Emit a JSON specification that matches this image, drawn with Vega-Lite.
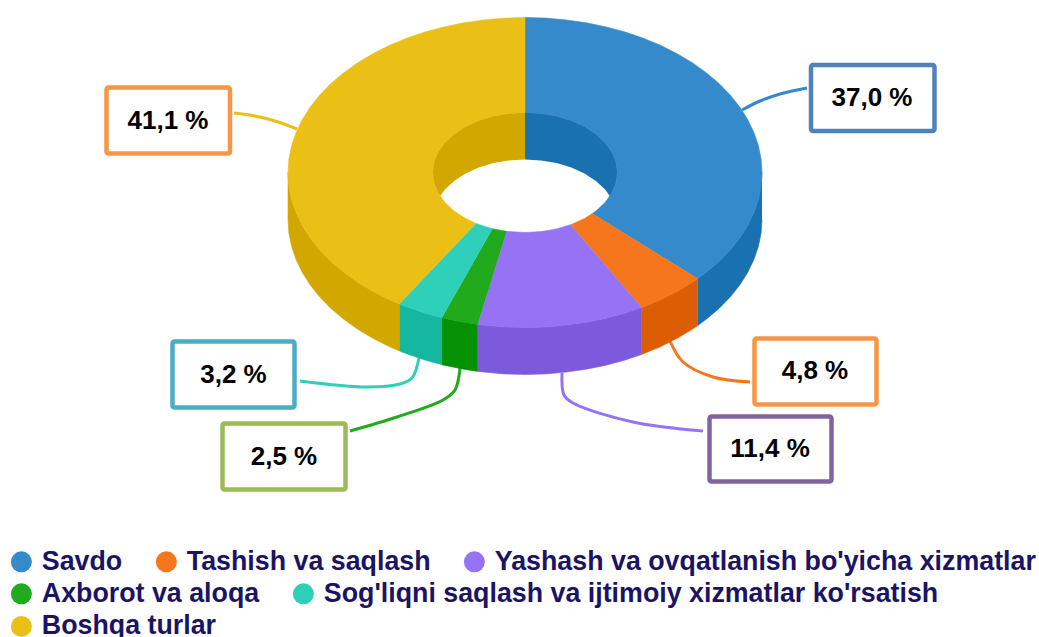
{
"$schema":"https://vega.github.io/schema/vega-lite/v6.json",
"width":1039,"height":637,"padding":0,"autosize":{"type":"none"},"background":"white",
"view":{"stroke":null},
"config":{"view":{"stroke":null},"legend":{"orient":"none","direction":"horizontal","title":null,"padding":0,"symbolType":"circle","symbolSize":441,"symbolStrokeWidth":0,"symbolOpacity":1,"labelFont":"Liberation Sans","labelFontWeight":"bold","labelFontSize":26.8,"labelColor":"#1b1464","labelOffset":7,"labelLimit":800,"columnPadding":30,"symbolOffset":0}},
"datasets":{
"labels":[
{"slice":"Savdo","label":"37,0 %","value":37.0,"x":811,"x2":934.5,"y":65,"y2":131,"tx":872,"ty":98},
{"slice":"Tashish va saqlash","label":"4,8 %","value":4.8,"x":754.5,"x2":876.5,"y":338.5,"y2":404.5,"tx":815,"ty":371},
{"slice":"Yashash va ovqatlanish bo'yicha xizmatlar","label":"11,4 %","value":11.4,"x":709.5,"x2":831.5,"y":416.5,"y2":481.5,"tx":770,"ty":449},
{"slice":"Axborot va aloqa","label":"2,5 %","value":2.5,"x":222.5,"x2":345.5,"y":423.5,"y2":489.5,"tx":284,"ty":456.5},
{"slice":"Sog'liqni saqlash va ijtimoiy xizmatlar ko'rsatish","label":"3,2 %","value":3.2,"x":172.5,"x2":294.5,"y":341.5,"y2":407.5,"tx":233.5,"ty":374.5},
{"slice":"Boshqa turlar","label":"41,1 %","value":41.1,"x":106.5,"x2":230,"y":87.5,"y2":153.5,"tx":168,"ty":121}
],
"connectors":[
{"slice":"A","x":742,"y":110},{"slice":"A","x":760,"y":101},{"slice":"A","x":780,"y":94},{"slice":"A","x":807,"y":88},
{"slice":"B","x":670,"y":341},{"slice":"B","x":683,"y":362},{"slice":"B","x":713,"y":377},{"slice":"B","x":750,"y":382},
{"slice":"C","x":562,"y":373},{"slice":"C","x":564,"y":395},{"slice":"C","x":573,"y":403},{"slice":"C","x":633,"y":422},{"slice":"C","x":703,"y":431},
{"slice":"D","x":460,"y":368},{"slice":"D","x":455,"y":390},{"slice":"D","x":443,"y":400},{"slice":"D","x":397,"y":417},{"slice":"D","x":350,"y":431},
{"slice":"E","x":419,"y":358},{"slice":"E","x":412,"y":378},{"slice":"E","x":400,"y":384},{"slice":"E","x":367,"y":387},{"slice":"E","x":300,"y":381},
{"slice":"F","x":297,"y":129},{"slice":"F","x":275,"y":121},{"slice":"F","x":255,"y":116},{"slice":"F","x":234,"y":113}
],
"side":[
{"slice":"A","x":762,"y":172.5},{"slice":"A","x":761.1,"y":186},{"slice":"A","x":758.4,"y":199.4},{"slice":"A","x":753.9,"y":212.6},{"slice":"A","x":747.7,"y":225.5},{"slice":"A","x":739.8,"y":238},{"slice":"A","x":730.2,"y":250},{"slice":"A","x":719.1,"y":261.4},{"slice":"A","x":706.5,"y":272.1},{"slice":"A","x":697.8,"y":278.6},{"slice":"A","x":697.8,"y":325.6},{"slice":"A","x":706.5,"y":319.1},{"slice":"A","x":719.1,"y":308.4},{"slice":"A","x":730.2,"y":297},{"slice":"A","x":739.8,"y":285},{"slice":"A","x":747.7,"y":272.5},{"slice":"A","x":753.9,"y":259.6},{"slice":"A","x":758.4,"y":246.4},{"slice":"A","x":761.1,"y":233},{"slice":"A","x":762,"y":219.5},
{"slice":"B","x":697.8,"y":278.6},{"slice":"B","x":692.6,"y":282.1},{"slice":"B","x":677.3,"y":291.2},{"slice":"B","x":660.9,"y":299.5},{"slice":"B","x":643.5,"y":306.7},{"slice":"B","x":641.7,"y":307.4},{"slice":"B","x":641.7,"y":354.4},{"slice":"B","x":643.5,"y":353.7},{"slice":"B","x":660.9,"y":346.5},{"slice":"B","x":677.3,"y":338.2},{"slice":"B","x":692.6,"y":329.1},{"slice":"B","x":697.8,"y":325.6},
{"slice":"C","x":641.7,"y":307.4},{"slice":"C","x":625.2,"y":313},{"slice":"C","x":606.1,"y":318.2},{"slice":"C","x":586.3,"y":322.2},{"slice":"C","x":566.1,"y":325.1},{"slice":"C","x":545.7,"y":326.9},{"slice":"C","x":525,"y":327.5},{"slice":"C","x":504.3,"y":326.9},{"slice":"C","x":483.9,"y":325.1},{"slice":"C","x":477.7,"y":324.4},{"slice":"C","x":477.7,"y":371.4},{"slice":"C","x":483.9,"y":372.1},{"slice":"C","x":504.3,"y":373.9},{"slice":"C","x":525,"y":374.5},{"slice":"C","x":545.7,"y":373.9},{"slice":"C","x":566.1,"y":372.1},{"slice":"C","x":586.3,"y":369.2},{"slice":"C","x":606.1,"y":365.2},{"slice":"C","x":625.2,"y":360},{"slice":"C","x":641.7,"y":354.4},
{"slice":"D","x":477.7,"y":324.4},{"slice":"D","x":463.7,"y":322.2},{"slice":"D","x":443.9,"y":318.2},{"slice":"D","x":442,"y":317.7},{"slice":"D","x":442,"y":364.7},{"slice":"D","x":443.9,"y":365.2},{"slice":"D","x":463.7,"y":369.2},{"slice":"D","x":477.7,"y":371.4},
{"slice":"E","x":442,"y":317.7},{"slice":"E","x":424.8,"y":313},{"slice":"E","x":406.5,"y":306.7},{"slice":"E","x":399.4,"y":303.9},{"slice":"E","x":399.4,"y":350.9},{"slice":"E","x":406.5,"y":353.7},{"slice":"E","x":424.8,"y":360},{"slice":"E","x":442,"y":364.7},
{"slice":"F","x":399.4,"y":303.9},{"slice":"F","x":389.1,"y":299.5},{"slice":"F","x":372.7,"y":291.2},{"slice":"F","x":357.4,"y":282.1},{"slice":"F","x":343.5,"y":272.1},{"slice":"F","x":330.9,"y":261.4},{"slice":"F","x":319.8,"y":250},{"slice":"F","x":310.2,"y":238},{"slice":"F","x":302.3,"y":225.5},{"slice":"F","x":296.1,"y":212.6},{"slice":"F","x":291.6,"y":199.4},{"slice":"F","x":288.9,"y":186},{"slice":"F","x":288,"y":172.5},{"slice":"F","x":288,"y":219.5},{"slice":"F","x":288.9,"y":233},{"slice":"F","x":291.6,"y":246.4},{"slice":"F","x":296.1,"y":259.6},{"slice":"F","x":302.3,"y":272.5},{"slice":"F","x":310.2,"y":285},{"slice":"F","x":319.8,"y":297},{"slice":"F","x":330.9,"y":308.4},{"slice":"F","x":343.5,"y":319.1},{"slice":"F","x":357.4,"y":329.1},{"slice":"F","x":372.7,"y":338.2},{"slice":"F","x":389.1,"y":346.5},{"slice":"F","x":399.4,"y":350.9}
],
"wall":[
{"slice":"A","x":525,"y":112.5},{"slice":"A","x":541.1,"y":113.4},{"slice":"A","x":556.6,"y":116.1},{"slice":"A","x":571.3,"y":120.5},{"slice":"A","x":584.5,"y":126.5},{"slice":"A","x":595.9,"y":133.9},{"slice":"A","x":605.1,"y":142.5},{"slice":"A","x":611.9,"y":152},{"slice":"A","x":616.1,"y":162.1},{"slice":"A","x":617.5,"y":172.5},{"slice":"A","x":616.1,"y":182.9},{"slice":"A","x":611.9,"y":193},{"slice":"A","x":605.1,"y":202.5},{"slice":"A","x":595.9,"y":211.1},{"slice":"A","x":584.5,"y":218.5},{"slice":"A","x":571.3,"y":224.5},{"slice":"A","x":556.6,"y":228.9},{"slice":"A","x":541.1,"y":231.6},{"slice":"A","x":525,"y":232.5},
{"slice":"F","x":525,"y":232.5},{"slice":"F","x":508.9,"y":231.6},{"slice":"F","x":493.4,"y":228.9},{"slice":"F","x":478.7,"y":224.5},{"slice":"F","x":465.5,"y":218.5},{"slice":"F","x":454.1,"y":211.1},{"slice":"F","x":444.9,"y":202.5},{"slice":"F","x":438.1,"y":193},{"slice":"F","x":433.9,"y":182.9},{"slice":"F","x":432.5,"y":172.5},{"slice":"F","x":433.9,"y":162.1},{"slice":"F","x":438.1,"y":152},{"slice":"F","x":444.9,"y":142.5},{"slice":"F","x":454.1,"y":133.9},{"slice":"F","x":465.5,"y":126.5},{"slice":"F","x":478.7,"y":120.5},{"slice":"F","x":493.4,"y":116.1},{"slice":"F","x":508.9,"y":113.4},{"slice":"F","x":525,"y":112.5}
],
"hole":[
{"x":525,"y":159.5},{"x":541.1,"y":160.4},{"x":556.6,"y":163.1},{"x":571.3,"y":167.5},{"x":584.5,"y":173.5},{"x":595.9,"y":180.9},{"x":605.1,"y":189.5},{"x":611.9,"y":199},{"x":616.1,"y":209.1},{"x":617.5,"y":219.5},{"x":616.1,"y":229.9},{"x":611.9,"y":240},{"x":605.1,"y":249.5},{"x":595.9,"y":258.1},{"x":584.5,"y":265.5},{"x":571.3,"y":271.5},{"x":556.6,"y":275.9},{"x":541.1,"y":278.6},{"x":525,"y":279.5},{"x":508.9,"y":278.6},{"x":493.4,"y":275.9},{"x":478.7,"y":271.5},{"x":465.5,"y":265.5},{"x":454.1,"y":258.1},{"x":444.9,"y":249.5},{"x":438.1,"y":240},{"x":433.9,"y":229.9},{"x":432.5,"y":219.5},{"x":433.9,"y":209.1},{"x":438.1,"y":199},{"x":444.9,"y":189.5},{"x":454.1,"y":180.9},{"x":465.5,"y":173.5},{"x":478.7,"y":167.5},{"x":493.4,"y":163.1},{"x":508.9,"y":160.4}
],
"top":[
{"slice":"A","x":525,"y":17.5},{"slice":"A","x":545.7,"y":18.1},{"slice":"A","x":566.1,"y":19.9},{"slice":"A","x":586.3,"y":22.8},{"slice":"A","x":606.1,"y":26.9},{"slice":"A","x":625.2,"y":32},{"slice":"A","x":643.5,"y":38.3},{"slice":"A","x":660.9,"y":45.5},{"slice":"A","x":677.3,"y":53.8},{"slice":"A","x":692.6,"y":62.9},{"slice":"A","x":706.5,"y":72.9},{"slice":"A","x":719.1,"y":83.6},{"slice":"A","x":730.2,"y":95},{"slice":"A","x":739.8,"y":107},{"slice":"A","x":747.7,"y":119.5},{"slice":"A","x":753.9,"y":132.4},{"slice":"A","x":758.4,"y":145.6},{"slice":"A","x":761.1,"y":159},{"slice":"A","x":762,"y":172.5},{"slice":"A","x":761.1,"y":186},{"slice":"A","x":758.4,"y":199.4},{"slice":"A","x":753.9,"y":212.6},{"slice":"A","x":747.7,"y":225.5},{"slice":"A","x":739.8,"y":238},{"slice":"A","x":730.2,"y":250},{"slice":"A","x":719.1,"y":261.4},{"slice":"A","x":706.5,"y":272.1},{"slice":"A","x":697.8,"y":278.6},{"slice":"A","x":592.4,"y":213.6},{"slice":"A","x":595.9,"y":211.1},{"slice":"A","x":605.1,"y":202.5},{"slice":"A","x":611.9,"y":193},{"slice":"A","x":616.1,"y":182.9},{"slice":"A","x":617.5,"y":172.5},{"slice":"A","x":616.1,"y":162.1},{"slice":"A","x":611.9,"y":152},{"slice":"A","x":605.1,"y":142.5},{"slice":"A","x":595.9,"y":133.9},{"slice":"A","x":584.5,"y":126.5},{"slice":"A","x":571.3,"y":120.5},{"slice":"A","x":556.6,"y":116.1},{"slice":"A","x":541.1,"y":113.4},{"slice":"A","x":525,"y":112.5},
{"slice":"B","x":697.8,"y":278.6},{"slice":"B","x":692.6,"y":282.1},{"slice":"B","x":677.3,"y":291.2},{"slice":"B","x":660.9,"y":299.5},{"slice":"B","x":643.5,"y":306.7},{"slice":"B","x":641.7,"y":307.4},{"slice":"B","x":570.5,"y":224.7},{"slice":"B","x":571.3,"y":224.5},{"slice":"B","x":584.5,"y":218.5},{"slice":"B","x":592.4,"y":213.6},
{"slice":"C","x":641.7,"y":307.4},{"slice":"C","x":625.2,"y":313},{"slice":"C","x":606.1,"y":318.2},{"slice":"C","x":586.3,"y":322.2},{"slice":"C","x":566.1,"y":325.1},{"slice":"C","x":545.7,"y":326.9},{"slice":"C","x":525,"y":327.5},{"slice":"C","x":504.3,"y":326.9},{"slice":"C","x":483.9,"y":325.1},{"slice":"C","x":477.7,"y":324.4},{"slice":"C","x":506.6,"y":231.3},{"slice":"C","x":508.9,"y":231.6},{"slice":"C","x":525,"y":232.5},{"slice":"C","x":541.1,"y":231.6},{"slice":"C","x":556.6,"y":228.9},{"slice":"C","x":570.5,"y":224.7},
{"slice":"D","x":477.7,"y":324.4},{"slice":"D","x":463.7,"y":322.2},{"slice":"D","x":443.9,"y":318.2},{"slice":"D","x":442,"y":317.7},{"slice":"D","x":492.6,"y":228.7},{"slice":"D","x":493.4,"y":228.9},{"slice":"D","x":506.6,"y":231.3},
{"slice":"E","x":442,"y":317.7},{"slice":"E","x":424.8,"y":313},{"slice":"E","x":406.5,"y":306.7},{"slice":"E","x":399.4,"y":303.9},{"slice":"E","x":476,"y":223.4},{"slice":"E","x":478.8,"y":224.5},{"slice":"E","x":492.6,"y":228.7},
{"slice":"F","x":399.4,"y":303.9},{"slice":"F","x":389.1,"y":299.5},{"slice":"F","x":372.7,"y":291.2},{"slice":"F","x":357.4,"y":282.1},{"slice":"F","x":343.5,"y":272.1},{"slice":"F","x":330.9,"y":261.4},{"slice":"F","x":319.8,"y":250},{"slice":"F","x":310.2,"y":238},{"slice":"F","x":302.3,"y":225.5},{"slice":"F","x":296.1,"y":212.6},{"slice":"F","x":291.6,"y":199.4},{"slice":"F","x":288.9,"y":186},{"slice":"F","x":288,"y":172.5},{"slice":"F","x":288.9,"y":159},{"slice":"F","x":291.6,"y":145.6},{"slice":"F","x":296.1,"y":132.4},{"slice":"F","x":302.3,"y":119.5},{"slice":"F","x":310.2,"y":107},{"slice":"F","x":319.8,"y":95},{"slice":"F","x":330.9,"y":83.6},{"slice":"F","x":343.5,"y":72.9},{"slice":"F","x":357.4,"y":62.9},{"slice":"F","x":372.7,"y":53.8},{"slice":"F","x":389.1,"y":45.5},{"slice":"F","x":406.5,"y":38.3},{"slice":"F","x":424.8,"y":32},{"slice":"F","x":443.9,"y":26.9},{"slice":"F","x":463.7,"y":22.8},{"slice":"F","x":483.9,"y":19.9},{"slice":"F","x":504.3,"y":18.1},{"slice":"F","x":525,"y":17.5},{"slice":"F","x":525,"y":112.5},{"slice":"F","x":508.9,"y":113.4},{"slice":"F","x":493.4,"y":116.1},{"slice":"F","x":478.7,"y":120.5},{"slice":"F","x":465.5,"y":126.5},{"slice":"F","x":454.1,"y":133.9},{"slice":"F","x":444.9,"y":142.5},{"slice":"F","x":438.1,"y":152},{"slice":"F","x":433.9,"y":162.1},{"slice":"F","x":432.5,"y":172.5},{"slice":"F","x":433.9,"y":182.9},{"slice":"F","x":438.1,"y":193},{"slice":"F","x":444.9,"y":202.5},{"slice":"F","x":454.1,"y":211.1},{"slice":"F","x":465.5,"y":218.5},{"slice":"F","x":476,"y":223.4}
]
},
"encoding":{
"x":{"field":"x","type":"quantitative","scale":{"domain":[0,1039],"nice":false,"zero":false},"axis":null},
"y":{"field":"y","type":"quantitative","scale":{"domain":[0,637],"reverse":true,"nice":false,"zero":false},"axis":null}
},
"layer":[
{"data":{"name":"labels"},"transform":[{"filter":{"field":"slice","oneOf":["Savdo","Tashish va saqlash","Yashash va ovqatlanish bo'yicha xizmatlar"]}}],
"mark":{"type":"point","filled":true,"size":1,"opacity":1},
"encoding":{"x":{"field":"tx","type":"quantitative"},"y":{"field":"ty","type":"quantitative"},
"color":{"field":"slice","type":"nominal","scale":{"domain":["Savdo","Tashish va saqlash","Yashash va ovqatlanish bo'yicha xizmatlar"],"range":["#348aca","#f6761e","#9672f5"]},"legend":{"legendX":8,"legendY":548,"columns":3}}}},
{"data":{"name":"labels"},"transform":[{"filter":{"field":"slice","oneOf":["Axborot va aloqa","Sog'liqni saqlash va ijtimoiy xizmatlar ko'rsatish"]}}],
"mark":{"type":"point","filled":true,"size":1,"opacity":1},
"encoding":{"x":{"field":"tx","type":"quantitative"},"y":{"field":"ty","type":"quantitative"},
"color":{"field":"slice","type":"nominal","scale":{"domain":["Axborot va aloqa","Sog'liqni saqlash va ijtimoiy xizmatlar ko'rsatish"],"range":["#20aa1c","#2fd0ba"]},"legend":{"legendX":8,"legendY":580,"columns":2}}}},
{"data":{"name":"labels"},"transform":[{"filter":{"field":"slice","equal":"Boshqa turlar"}}],
"mark":{"type":"point","filled":true,"size":1,"opacity":1},
"encoding":{"x":{"field":"tx","type":"quantitative"},"y":{"field":"ty","type":"quantitative"},
"color":{"field":"slice","type":"nominal","scale":{"domain":["Boshqa turlar"],"range":["#ebc016"]},"legend":{"legendX":8,"legendY":613}}}},
{"data":{"name":"connectors"},"transform":[{"window":[{"op":"row_number","as":"i"}]}],"mark":{"type":"line","interpolate":"catmull-rom","strokeWidth":3},
"encoding":{"order":{"field":"i","type":"quantitative"},"color":{"field":"slice","type":"nominal","scale":{"domain":["A","B","C","D","E","F"],"range":["#348aca","#f6761e","#9672f5","#20aa1c","#2fd0ba","#ebc016"]},"legend":null}}},
{"data":{"name":"side"},"transform":[{"window":[{"op":"row_number","as":"i"}]}],"mark":{"type":"line","strokeWidth":0.6},
"encoding":{"order":{"field":"i","type":"quantitative"},
"stroke":{"field":"slice","type":"nominal","scale":{"domain":["A","B","C","D","E","F"],"range":["#1a71b0","#dc5d04","#7d59dc","#049103","#16b7a1","#d2a700"]},"legend":null},
"fill":{"field":"slice","type":"nominal","scale":{"domain":["A","B","C","D","E","F"],"range":["#1a71b0","#dc5d04","#7d59dc","#049103","#16b7a1","#d2a700"]},"legend":null}}},
{"data":{"name":"wall"},"transform":[{"window":[{"op":"row_number","as":"i"}]}],"mark":{"type":"line","strokeWidth":0.6},
"encoding":{"order":{"field":"i","type":"quantitative"},
"stroke":{"field":"slice","type":"nominal","scale":{"domain":["A","F"],"range":["#1a71b0","#d2a700"]},"legend":null},
"fill":{"field":"slice","type":"nominal","scale":{"domain":["A","F"],"range":["#1a71b0","#d2a700"]},"legend":null}}},
{"data":{"name":"hole"},"transform":[{"window":[{"op":"row_number","as":"i"}]}],"mark":{"type":"line","strokeWidth":0,"fill":"white"},"encoding":{"order":{"field":"i","type":"quantitative"}}},
{"data":{"name":"top"},"transform":[{"window":[{"op":"row_number","as":"i"}]}],"mark":{"type":"line","strokeWidth":0.6},
"encoding":{"order":{"field":"i","type":"quantitative"},
"stroke":{"field":"slice","type":"nominal","scale":{"domain":["A","B","C","D","E","F"],"range":["#348aca","#f6761e","#9672f5","#20aa1c","#2fd0ba","#ebc016"]},"legend":null},
"fill":{"field":"slice","type":"nominal","scale":{"domain":["A","B","C","D","E","F"],"range":["#348aca","#f6761e","#9672f5","#20aa1c","#2fd0ba","#ebc016"]},"legend":null}}},
{"data":{"name":"labels"},"mark":{"type":"rect","fill":"white","strokeWidth":4.5,"cornerRadius":2},
"encoding":{"x":{"field":"x","type":"quantitative"},"x2":{"field":"x2"},"y":{"field":"y","type":"quantitative"},"y2":{"field":"y2"},
"stroke":{"field":"slice","type":"nominal","scale":{"domain":["Savdo","Tashish va saqlash","Yashash va ovqatlanish bo'yicha xizmatlar","Axborot va aloqa","Sog'liqni saqlash va ijtimoiy xizmatlar ko'rsatish","Boshqa turlar"],"range":["#4f81bd","#f79646","#8064a2","#9bbb59","#4bacc6","#f79646"]},"legend":null}}},
{"data":{"name":"labels"},"mark":{"type":"text","font":"Liberation Sans","fontWeight":"bold","fontSize":26,"color":"#000000","align":"center","baseline":"middle"},
"encoding":{"x":{"field":"tx","type":"quantitative"},"y":{"field":"ty","type":"quantitative"},"text":{"field":"label","type":"nominal"}}}
],
"resolve":{"scale":{"color":"independent","fill":"independent","stroke":"independent"},"legend":{"color":"independent"}}
}
